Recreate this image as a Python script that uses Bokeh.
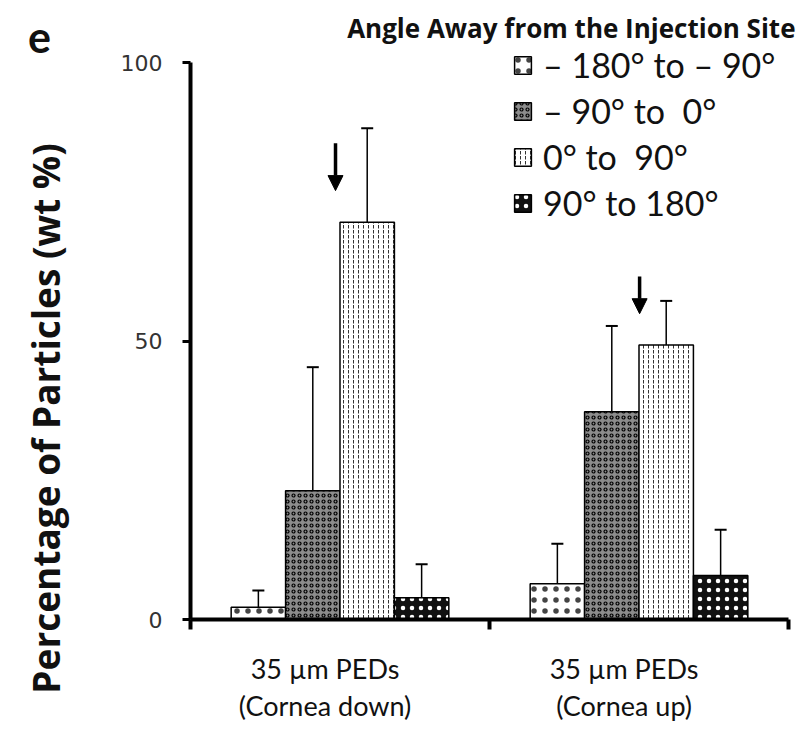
import numpy as np
from bokeh.plotting import figure
from bokeh.layouts import row
from bokeh.models import (ColumnDataSource, Whisker, TeeHead, Arrow, NormalHead,
                          Label, FixedTicker, Range1d)
from bokeh.embed import file_html
from bokeh.resources import INLINE

# ---- data ----
groups = ["35 µm PEDs\n(Cornea down)", "35 µm PEDs\n(Cornea up)"]
series = ["– 180° to – 90°", "– 90° to  0°", "0° to  90°", "90° to 180°"]
s1_mean = [2.2, 6.4]
s2_mean = [23.1, 37.3]
s3_mean = [71.3, 49.3]
s4_mean = [3.9, 7.9]
s1_err = [3.0, 7.2]
s2_err = [22.2, 15.4]
s3_err = [16.9, 7.9]
s4_err = [6.0, 8.2]
y_ticks = [0, 50, 100]
arrow_x = [0.485, 1.502]
arrow_top = [85.5, 61.6]
arrow_tip = [77.0, 54.9]

means = [s1_mean, s2_mean, s3_mean, s4_mean]
errs = [s1_err, s2_err, s3_err, s4_err]

styles = [
    dict(fill_color="white", hatch_pattern="dot", hatch_color="#444444", hatch_scale=11, hatch_weight=1),
    dict(fill_color="#8c8c8c", hatch_pattern="ring", hatch_color="black", hatch_scale=6, hatch_weight=1.2),
    dict(fill_color="white", hatch_pattern="vertical_dash", hatch_color="#333333", hatch_scale=5, hatch_weight=1),
    dict(fill_color="#111111", hatch_pattern="dot", hatch_color="white", hatch_scale=9, hatch_weight=2.5),
]

H = 728
LEFT_W = 110
n_groups = len(groups)
n_series = len(series)
bar_w = 0.182
label_shift = 0.05
centers = np.arange(n_groups) + 0.5
offsets = (np.arange(n_series) - (n_series - 1) / 2) * bar_w

# ---- left strip with the panel letter and y title ----
left = figure(width=LEFT_W, height=H, output_backend="svg", toolbar_location=None,
              x_range=Range1d(0, LEFT_W), y_range=Range1d(0, H),
              x_axis_type=None, y_axis_type=None, min_border=0, frame_align=False)
left.outline_line_color = None
left.xgrid.visible = False
left.ygrid.visible = False
left.add_layout(Label(x=39, y=H - 36, x_units="screen", y_units="screen", text="e",
                      text_align="center", text_baseline="alphabetic", text_font="Lato",
                      text_font_style="bold", text_font_size="43px", text_color="#111111"))
left.add_layout(Label(x=45, y=H - 418, x_units="screen", y_units="screen",
                      text="Percentage of Particles (wt %)", angle=90, angle_units="deg",
                      text_align="center", text_baseline="middle", text_font="Open Sans",
                      text_font_style="bold", text_font_size="37px", text_color="#111111"))

# ---- main chart ----
frame_w = 800 - 190
frame_h = 619
px_per_x = 299.0
px_per_y = 5.57
p = figure(width=800 - LEFT_W, height=H, output_backend="svg", toolbar_location=None,
           x_range=Range1d(0, frame_w / px_per_x), y_range=Range1d(0, frame_h / px_per_y),
           min_border_left=190 - LEFT_W, min_border_right=0, min_border_top=0,
           min_border_bottom=H - frame_h, frame_align=False)
p.outline_line_color = None
p.xgrid.visible = False
p.ygrid.visible = False

for i, name in enumerate(series):
    xs = centers + offsets[i]
    top = np.array(means[i])
    src = ColumnDataSource(dict(x=xs, top=top, upper=top + np.array(errs[i])))
    p.vbar(x="x", top="top", width=bar_w, source=src, line_color="black", line_width=1.5,
           legend_label=name, **styles[i])
    p.add_layout(Whisker(base="x", upper="upper", lower="top", source=src, line_width=1.5,
                         upper_head=TeeHead(size=12, line_width=2), lower_head=None))

for ax, yt, yb in zip(arrow_x, arrow_top, arrow_tip):
    p.add_layout(Arrow(end=NormalHead(size=15, fill_color="black", line_color="black"),
                       x_start=ax, y_start=yt, x_end=ax, y_end=yb,
                       line_width=3.5, line_color="black"))

# y axis
ya = p.yaxis[0]
ya.ticker = FixedTicker(ticks=y_ticks)
ya.bounds = (0, 100)
ya.axis_line_width = 4
ya.major_tick_line_width = 3
ya.major_tick_out = 8
ya.major_tick_in = 0
ya.minor_tick_out = 0
ya.minor_tick_in = 0
ya.major_label_text_font = "DejaVu Sans"
ya.major_label_text_font_size = "22px"
ya.major_label_text_color = "#333333"
ya.major_label_standoff = 20

# x axis (labels sit slightly left of the group centres, as in the source)
label_pos = [float(c - label_shift) for c in centers]
xa = p.xaxis[0]
xa.ticker = FixedTicker(ticks=label_pos, minor_ticks=list(range(n_groups + 1)))
xa.bounds = (0, n_groups)
xa.major_label_overrides = {lp: g for lp, g in zip(label_pos, groups)}
xa.axis_line_width = 4
xa.major_tick_out = 0
xa.major_tick_in = 0
xa.minor_tick_out = 10
xa.minor_tick_in = 0
xa.minor_tick_line_width = 4
xa.major_label_text_font = "Lato"
xa.major_label_text_font_size = "27px"
xa.major_label_text_line_height = 1.15
xa.major_label_text_color = "#111111"
xa.major_label_standoff = 22

# legend (location = bottom-left corner, frame pixels)
lg = p.legend[0]
lg.location = (322, 396)
lg.border_line_alpha = 0
lg.background_fill_alpha = 0
lg.padding = 0
lg.margin = 0
lg.spacing = 5
lg.glyph_width = 21
lg.glyph_height = 22
lg.label_standoff = 10
lg.label_text_font = "Lato"
lg.label_text_font_size = "34px"
lg.label_height = 30
lg.label_text_color = "#111111"

p.add_layout(Label(x=605, y=frame_h - 27, x_units="screen", y_units="screen",
                   text="Angle Away from the Injection Site",
                   text_align="right", text_baseline="middle", text_font="Open Sans",
                   text_font_style="bold", text_font_size="26px", text_color="#111111"))

open("out.html", "w").write(file_html(row(left, p), INLINE))
